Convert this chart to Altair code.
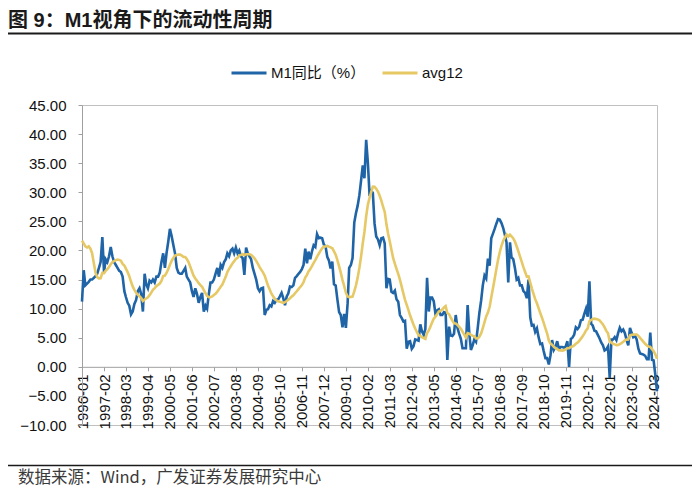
import altair as alt
import pandas as pd

FONT = "Liberation Sans, Arial, 'Noto Sans CJK SC', sans-serif"
CJK_FONT = "'Noto Sans CJK SC', 'Liberation Sans', sans-serif"

title_text = "图 9：M1视角下的流动性周期"
source_text = "数据来源：Wind，广发证券发展研究中心"
series_names = ["M1同比（%）", "avg12"]
series_colors = ["#1f64a6", "#e6c865"]

start_month = "1996-01-01"
n_months = 341  # 1996-01 .. 2024-05

# M1 YoY (%), monthly, 1996-01 .. 2024-05
m1_yoy = [
    11.2, 16.6, 14.0, 14.3, 14.6, 15.0, 15.0, 15.3, 15.6, 16.0, 17.0, 18.0,   # 1996
    22.3, 16.2, 18.5, 18.0, 19.0, 20.6, 19.0, 18.0, 17.5, 17.0, 16.5, 16.3,   # 1997
    15.5, 13.0, 12.0, 11.0, 10.5, 9.0, 9.5, 10.8, 11.5, 13.0, 13.5, 12.5,     # 1998
    9.5, 16.0, 14.2, 13.5, 14.8, 14.5, 15.0, 14.5, 15.5, 15.5, 16.2, 18.0,    # 1999
    19.5, 17.0, 19.5, 21.5, 23.7, 22.5, 21.0, 19.5, 17.0, 16.2, 16.0, 16.0,   # 2000
    16.5, 17.0, 15.5, 15.0, 14.5, 13.0, 12.0, 13.5, 12.5, 11.0, 12.0, 12.7,   # 2001
    9.5, 10.5, 10.0, 12.5, 14.5, 14.5, 15.0, 16.0, 17.0, 15.5, 17.5, 17.0,    # 2002
    18.0, 18.5, 19.5, 19.0, 20.0, 20.3, 19.5, 20.5, 19.5, 20.0, 19.0, 18.7,   # 2003
    15.8, 20.5, 19.5, 19.0, 18.5, 17.0, 16.0, 15.0, 13.5, 13.0, 13.5, 13.6,   # 2004
    8.9, 9.8, 9.9, 10.6, 10.4, 11.3, 11.0, 11.5, 11.6, 12.1, 12.7, 11.8,      # 2005
    10.6, 12.1, 12.6, 13.8, 13.7, 14.0, 15.3, 15.6, 16.0, 16.3, 16.8, 17.5,   # 2006
    20.3, 17.8, 19.8, 18.5, 19.8, 20.9, 20.6, 22.8, 22.1, 22.2, 22.1, 21.0,   # 2007
    20.7, 18.9, 18.3, 16.9, 18.1, 14.2, 14.0, 11.6, 9.4, 8.9, 6.8, 9.1,       # 2008
    6.7, 10.9, 17.0, 17.5, 18.7, 24.8, 26.4, 27.7, 29.5, 32.0, 34.6, 32.4,    # 2009
    39.0, 35.0, 29.9, 30.3, 29.9, 24.6, 22.4, 21.9, 20.9, 22.1, 22.2, 21.2,   # 2010
    13.5, 15.1, 15.0, 12.9, 12.7, 13.1, 11.6, 11.2, 8.9, 8.4, 7.8, 7.9,       # 2011
    3.1, 4.3, 4.4, 3.1, 3.5, 4.7, 4.6, 4.5, 7.3, 6.1, 5.5, 6.5,               # 2012
    15.3, 9.5, 11.9, 11.9, 11.3, 9.1, 9.7, 9.9, 8.9, 8.9, 9.4, 9.3,           # 2013
    1.2, 6.9, 5.4, 5.3, 5.7, 8.9, 6.7, 5.7, 4.8, 3.2, 3.2, 3.2,               # 2014
    10.6, 5.6, 2.9, 3.7, 4.7, 4.3, 6.6, 9.3, 11.4, 14.0, 15.7, 15.2,          # 2015
    18.6, 17.4, 22.1, 22.9, 23.7, 24.6, 25.4, 25.3, 24.7, 23.9, 22.7, 21.4,   # 2016
    14.5, 21.4, 18.8, 18.5, 17.0, 15.0, 15.3, 14.0, 14.0, 13.0, 12.7, 11.8,   # 2017
    15.0, 8.5, 7.1, 7.2, 6.0, 6.6, 5.1, 3.9, 4.0, 2.7, 1.5, 1.5,              # 2018
    0.4, 2.0, 4.6, 2.9, 3.4, 4.4, 3.1, 3.4, 3.4, 3.3, 3.5, 4.4,               # 2019
    0.0, 4.8, 5.0, 5.5, 6.8, 6.5, 6.9, 8.0, 8.1, 9.1, 10.0, 8.6,              # 2020
    14.7, 7.4, 7.1, 6.2, 6.1, 5.5, 4.9, 4.2, 3.7, 2.8, 3.0, 3.5,              # 2021
    -1.9, 4.7, 4.7, 5.1, 4.6, 5.8, 6.7, 6.1, 6.4, 5.8, 4.6, 3.7,              # 2022
    6.7, 5.8, 5.1, 5.3, 4.7, 3.1, 2.3, 2.2, 2.1, 1.9, 1.3, 1.3,               # 2023
    5.9, 1.2, 1.1, -1.4, -4.2,                                                # 2024
]

# avg12 (%), monthly, 1996-01 .. 2024-05
avg12 = [
    21.70, 21.20, 20.70, 20.50, 20.70, 20.30, 19.50, 17.80, 16.20, 15.40, 15.20, 15.22,  # 1996
    16.14, 16.11, 16.48, 16.79, 17.16, 17.63, 17.96, 18.18, 18.34, 18.43, 18.38, 18.24,  # 1997
    17.68, 17.41, 16.87, 16.28, 15.58, 14.61, 13.82, 13.22, 12.72, 12.38, 12.13, 11.82,  # 1998
    11.32, 11.57, 11.75, 11.96, 12.32, 12.78, 13.23, 13.54, 13.88, 14.08, 14.31, 14.77,  # 1999
    15.60, 15.68, 16.13, 16.79, 17.53, 18.20, 18.70, 19.12, 19.24, 19.30, 19.28, 19.12,  # 2000
    18.87, 18.87, 18.53, 17.99, 17.23, 16.43, 15.68, 15.18, 14.81, 14.38, 14.04, 13.77,  # 2001
    13.18, 12.64, 12.18, 11.98, 11.98, 12.10, 12.35, 12.56, 12.93, 13.31, 13.77, 14.13,  # 2002
    14.83, 15.50, 16.29, 16.83, 17.29, 17.78, 18.15, 18.53, 18.73, 19.11, 19.23, 19.38,  # 2003
    19.19, 19.36, 19.36, 19.36, 19.23, 18.96, 18.67, 18.21, 17.71, 17.13, 16.67, 16.24,  # 2004
    15.67, 14.78, 13.98, 13.28, 12.60, 12.13, 11.71, 11.42, 11.26, 11.18, 11.12, 10.97,  # 2005
    11.11, 11.30, 11.53, 11.79, 12.07, 12.29, 12.65, 12.99, 13.36, 13.71, 14.05, 14.53,  # 2006
    15.33, 15.81, 16.41, 16.80, 17.31, 17.88, 18.33, 18.93, 19.43, 19.93, 20.37, 20.66,  # 2007
    20.69, 20.78, 20.66, 20.53, 20.38, 19.83, 19.28, 18.34, 17.28, 16.18, 14.90, 13.91,  # 2008
    12.74, 12.08, 11.97, 12.02, 12.07, 12.95, 13.98, 15.33, 17.00, 18.93, 21.24, 23.18,  # 2009
    25.88, 27.88, 28.96, 30.03, 30.96, 30.94, 30.61, 30.13, 29.41, 28.58, 27.55, 26.62,  # 2010
    24.49, 22.83, 21.59, 20.14, 18.71, 17.75, 16.85, 15.96, 14.96, 13.82, 12.62, 11.51,  # 2011
    10.64, 9.74, 8.86, 8.04, 7.28, 6.58, 5.99, 5.43, 5.30, 5.11, 4.92, 4.80,            # 2012
    5.82, 6.25, 6.88, 7.61, 8.26, 8.63, 9.05, 9.50, 9.63, 9.87, 10.19, 10.43,           # 2013
    9.25, 9.03, 8.49, 7.94, 7.48, 7.46, 7.21, 6.86, 6.52, 6.04, 5.53, 5.02,             # 2014
    5.80, 5.69, 5.48, 5.35, 5.27, 4.88, 4.88, 5.18, 5.73, 6.63, 7.67, 8.67,             # 2015
    9.33, 10.32, 11.92, 13.52, 15.10, 16.79, 18.36, 19.69, 20.80, 21.63, 22.21, 22.73,  # 2016
    22.38, 22.72, 22.44, 22.08, 21.52, 20.72, 19.88, 18.93, 18.04, 17.13, 16.30, 15.50,  # 2017
    15.54, 14.47, 13.49, 12.55, 11.63, 10.93, 10.08, 9.24, 8.41, 7.55, 6.62, 5.76,      # 2018
    4.54, 4.00, 3.79, 3.43, 3.22, 3.03, 2.87, 2.83, 2.78, 2.83, 2.99, 3.23,             # 2019
    3.20, 3.43, 3.47, 3.68, 3.97, 4.14, 4.46, 4.84, 5.23, 5.72, 6.26, 6.61,             # 2020
    7.83, 8.05, 8.23, 8.28, 8.23, 8.14, 7.98, 7.66, 7.29, 6.77, 6.18, 5.76,             # 2021
    4.38, 4.15, 3.95, 3.86, 3.73, 3.76, 3.91, 4.07, 4.29, 4.54, 4.68, 4.69,             # 2022
    5.41, 5.50, 5.53, 5.55, 5.56, 5.33, 4.97, 4.64, 4.28, 3.96, 3.68, 3.48,             # 2023
    3.42, 3.03, 2.70, 2.14, 1.40,                                                       # 2024
]

x_tick_labels = [
    "1996-01", "1997-02", "1998-03", "1999-04", "2000-05", "2001-06", "2002-07",
    "2003-08", "2004-09", "2005-10", "2006-11", "2007-12", "2009-01", "2010-02",
    "2011-03", "2012-04", "2013-05", "2014-06", "2015-07", "2016-08", "2017-09",
    "2018-10", "2019-11", "2020-12", "2022-01", "2023-02", "2024-03",
]
y_ticks = [-10, -5, 0, 5, 10, 15, 20, 25, 30, 35, 40, 45]

dates = list(pd.date_range(start_month, periods=n_months, freq="MS").strftime("%Y-%m-%d"))
df = pd.DataFrame({
    "date": dates * 2,
    "value": m1_yoy + avg12,
    "series": [series_names[0]] * n_months + [series_names[1]] * n_months,
})


def dt(label):
    return alt.DateTime(year=int(label[:4]), month=int(label[5:7]), date=1, utc=True)


PLOT_W, PLOT_H = 575, 320
zero_offset = -(10 / 55) * PLOT_H

x_enc = alt.X(
    "date:T",
    scale=alt.Scale(type="utc", domain=[dt("1996-01"), dt("2024-05")], nice=False),
    axis=alt.Axis(
        values=[dt(s) for s in x_tick_labels],
        labelExpr="utcFormat(datum.value, '%Y-%m')",
        labelAngle=270,
        labelFontSize=15,
        labelFont=FONT,
        labelColor="#111111",
        labelPadding=3,
        labelOverlap=False,
        labelBound=False,
        labelFlush=False,
        tickSize=4,
        tickColor="#a0a0a0",
        domainColor="#a0a0a0",
        grid=False,
        title=None,
        offset=zero_offset,
    ),
)
y_enc = alt.Y(
    "value:Q",
    scale=alt.Scale(domain=[-10, 45], nice=False, zero=False),
    axis=alt.Axis(
        values=y_ticks,
        format=".2f",
        labelFontSize=15,
        labelFont=FONT,
        labelColor="#111111",
        labelPadding=12,
        tickSize=4,
        tickColor="#a0a0a0",
        domainColor="#a0a0a0",
        grid=False,
        title=None,
    ),
)
color_enc = alt.Color(
    "series:N",
    scale=alt.Scale(domain=series_names, range=series_colors),
    title=None,
    legend=alt.Legend(
        orient="none",
        legendX=148,
        legendY=-51,
        direction="horizontal",
        symbolType="stroke",
        symbolSize=1225,
        symbolStrokeWidth=3,
        labelFontSize=15,
        labelFont=FONT,
        labelColor="#111111",
        labelOffset=3,
        columnPadding=10,
    ),
)

base = alt.Chart(df)
m1_line = base.transform_filter(alt.datum.series == series_names[0]).mark_line(
    strokeWidth=2.6
).encode(x=x_enc, y=y_enc, color=color_enc)
avg_line = base.transform_filter(alt.datum.series == series_names[1]).mark_line(
    strokeWidth=2.6
).encode(x=x_enc, y=y_enc, color=color_enc)

title_layer = alt.Chart(pd.DataFrame({"t": [title_text]})).mark_text(
    align="left", baseline="middle", fontSize=20, fontWeight="bold",
    font=FONT, color="#1a1a1a"
).encode(x=alt.value(-74), y=alt.value(-84), text="t:N")

source_layer = alt.Chart(pd.DataFrame({"t": [source_text]})).mark_text(
    align="left", baseline="middle", fontSize=16.5, font=CJK_FONT, color="#3a3a3a"
).encode(x=alt.value(-64), y=alt.value(373), text="t:N")

rule_df = pd.DataFrame({"k": [0]})
top_rule = alt.Chart(rule_df).mark_rule(color="#1a1a1a", strokeWidth=2).encode(
    x=alt.value(-74), x2=alt.value(610), y=alt.value(-71.5)
)
bottom_rule = alt.Chart(rule_df).mark_rule(color="#1a1a1a", strokeWidth=1.5).encode(
    x=alt.value(-74), x2=alt.value(610), y=alt.value(360.5)
)

chart = alt.layer(
    m1_line, avg_line, title_layer, source_layer, top_rule, bottom_rule
).properties(
    width=PLOT_W,
    height=PLOT_H,
    autosize=alt.AutoSizeParams(type="none"),
    padding={"left": 74, "top": 97, "right": 35, "bottom": 62},
    background="white",
).configure_view(stroke="#c0c0c0", strokeWidth=1)

chart.save("out.html", embed_options={"renderer": "svg", "actions": False})
